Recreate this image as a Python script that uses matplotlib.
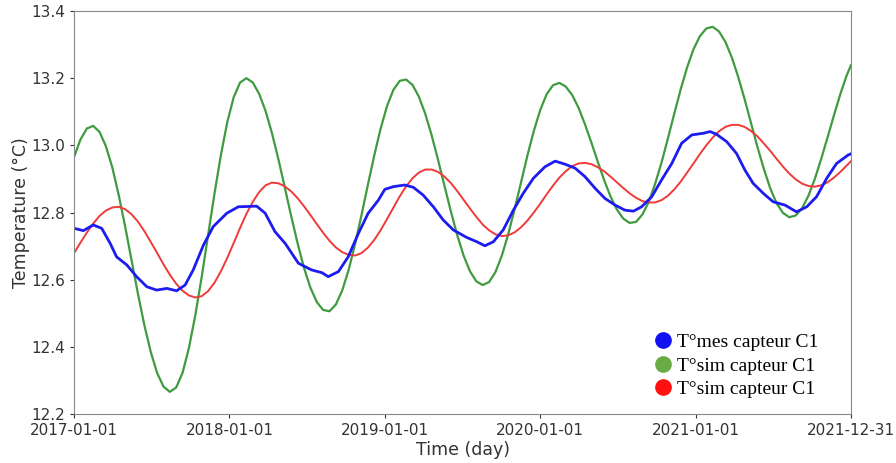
import matplotlib
matplotlib.use("Agg")
import matplotlib.pyplot as plt
import matplotlib.dates as mdates
from matplotlib.lines import Line2D
import numpy as np
import pandas as pd

# simulated series sampled every 15 days from 2017-01-01 (last point = 2021-12-31)
sim_days = list(range(0, 1816, 15)) + [1825]

green_sim = [
    12.965, 13.017, 13.050, 13.058, 13.040, 12.997, 12.934, 12.852,
    12.759, 12.659, 12.559, 12.466, 12.386, 12.323, 12.282, 12.266,
    12.279, 12.323, 12.397, 12.495, 12.609, 12.733, 12.857, 12.971,
    13.069, 13.143, 13.187, 13.200, 13.187, 13.153, 13.102, 13.036,
    12.959, 12.875, 12.790, 12.709, 12.636, 12.577, 12.534, 12.510,
    12.506, 12.526, 12.568, 12.629, 12.705, 12.791, 12.881, 12.969,
    13.049, 13.116, 13.165, 13.192, 13.196, 13.180, 13.145, 13.094,
    13.030, 12.957, 12.880, 12.804, 12.733, 12.672, 12.625, 12.595,
    12.584, 12.593, 12.623, 12.672, 12.736, 12.811, 12.890, 12.970,
    13.043, 13.105, 13.152, 13.179, 13.186, 13.175, 13.150, 13.112,
    13.063, 13.009, 12.952, 12.897, 12.848, 12.809, 12.782, 12.769,
    12.772, 12.794, 12.832, 12.886, 12.949, 13.021, 13.095, 13.167,
    13.232, 13.286, 13.325, 13.348, 13.353, 13.339, 13.308, 13.262,
    13.204, 13.138, 13.067, 12.996, 12.931, 12.873, 12.828, 12.799,
    12.786, 12.791, 12.813, 12.850, 12.900, 12.960, 13.024, 13.090,
    13.153, 13.209, 13.239,
]

red_sim = [
    12.679, 12.710, 12.740, 12.767, 12.790, 12.806, 12.815, 12.817,
    12.810, 12.795, 12.773, 12.745, 12.713, 12.680, 12.646, 12.615,
    12.588, 12.567, 12.553, 12.547, 12.551, 12.566, 12.591, 12.625,
    12.665, 12.709, 12.754, 12.796, 12.832, 12.861, 12.881, 12.889,
    12.887, 12.878, 12.863, 12.843, 12.819, 12.793, 12.766, 12.740,
    12.716, 12.696, 12.682, 12.674, 12.672, 12.679, 12.695, 12.718,
    12.747, 12.780, 12.814, 12.848, 12.878, 12.902, 12.919, 12.928,
    12.928, 12.921, 12.907, 12.888, 12.864, 12.838, 12.812, 12.787,
    12.764, 12.747, 12.735, 12.730, 12.732, 12.741, 12.756, 12.776,
    12.800, 12.826, 12.854, 12.880, 12.904, 12.923, 12.938, 12.946,
    12.948, 12.944, 12.935, 12.923, 12.907, 12.890, 12.873, 12.857,
    12.844, 12.834, 12.830, 12.830, 12.837, 12.850, 12.869, 12.892,
    12.919, 12.946, 12.974, 13.000, 13.023, 13.042, 13.055, 13.061,
    13.061, 13.055, 13.043, 13.027, 13.006, 12.984, 12.960, 12.937,
    12.916, 12.899, 12.886, 12.879, 12.877, 12.881, 12.890, 12.904,
    12.921, 12.940, 12.953,
]

# measured series (days since 2017-01-01, temperature)
mes_days = [0, 22, 45, 65, 85, 100, 124, 147, 171, 194, 218, 241, 261, 280,
            304, 327, 359, 386, 429, 449, 472, 496, 527, 558, 582, 597, 621,
            644, 668, 691, 715, 730, 750, 777, 797, 820, 844, 867, 891, 922,
            946, 965, 985, 1008, 1032, 1055, 1079, 1106, 1130, 1153, 1177,
            1200, 1224, 1247, 1271, 1294, 1314, 1333, 1357, 1380, 1404, 1427,
            1451, 1478, 1494, 1509, 1533, 1556, 1576, 1595, 1619, 1642, 1670,
            1697, 1721, 1744, 1768, 1791, 1818, 1825]
mes_vals = [12.753, 12.746, 12.763, 12.753, 12.708, 12.668, 12.644, 12.609,
            12.579, 12.569, 12.574, 12.567, 12.584, 12.629, 12.703, 12.758,
            12.798, 12.817, 12.819, 12.798, 12.743, 12.708, 12.649, 12.629,
            12.621, 12.609, 12.624, 12.668, 12.738, 12.798, 12.837, 12.869,
            12.877, 12.882, 12.875, 12.852, 12.817, 12.778, 12.748, 12.726,
            12.713, 12.701, 12.713, 12.748, 12.807, 12.857, 12.902, 12.936,
            12.953, 12.944, 12.932, 12.907, 12.872, 12.842, 12.822, 12.807,
            12.804, 12.817, 12.847, 12.897, 12.946, 13.006, 13.031, 13.036,
            13.041, 13.033, 13.011, 12.976, 12.926, 12.887, 12.857, 12.832,
            12.822, 12.802, 12.817, 12.847, 12.902, 12.946, 12.971, 12.975]

labels = ["T°mes capteur C1", "T°sim capteur C1", "T°sim capteur C1"]
xtick_dates = ["2017-01-01", "2018-01-01", "2019-01-01", "2020-01-01",
               "2021-01-01", "2021-12-31"]
yticks = [12.2, 12.4, 12.6, 12.8, 13.0, 13.2, 13.4]

start = pd.Timestamp("2017-01-01")
sim_dates = start + pd.to_timedelta(sim_days, unit="D")
mes_dates = start + pd.to_timedelta(mes_days, unit="D")

fig = plt.figure(figsize=(8.96, 4.63), dpi=100)
ax = fig.add_axes([0.0826, 0.1058, 0.8672, 0.8704])

ax.plot(sim_dates, green_sim, color="#3f9b3f", lw=1.6)
ax.plot(sim_dates, red_sim, color="#f03a3a", lw=1.4)
ax.plot(mes_dates, mes_vals, color="#1c1cf0", lw=2.0)

ax.set_xlim(pd.Timestamp(xtick_dates[0]), pd.Timestamp(xtick_dates[-1]))
ax.set_ylim(12.2, 13.4)
ax.set_xticks(pd.to_datetime(xtick_dates))
ax.xaxis.set_major_formatter(mdates.DateFormatter("%Y-%m-%d"))
ax.set_yticks(yticks)
ax.set_yticklabels([f"{v:.1f}" for v in yticks])
ax.tick_params(labelsize=11, colors="#333333", length=3)
for s in ax.spines.values():
    s.set_color("#888888")

ax.set_xlabel("Time (day)", fontsize=12.5, color="#333333", labelpad=2)
ax.set_ylabel("Temperature (°C)", fontsize=12.5, color="#333333", labelpad=1)

handles = [Line2D([], [], ls="", marker="o", ms=11, color=c)
           for c in ["#1010f0", "#6aab45", "#ff1010"]]
ax.legend(handles, labels, loc="lower right", frameon=False,
          bbox_to_anchor=(0.968, 0.02), borderaxespad=0,
          prop={"family": "Liberation Serif", "size": 14},
          handlelength=0.8, handletextpad=0.3, labelspacing=0.3)

fig.savefig("out.png", dpi=100)
